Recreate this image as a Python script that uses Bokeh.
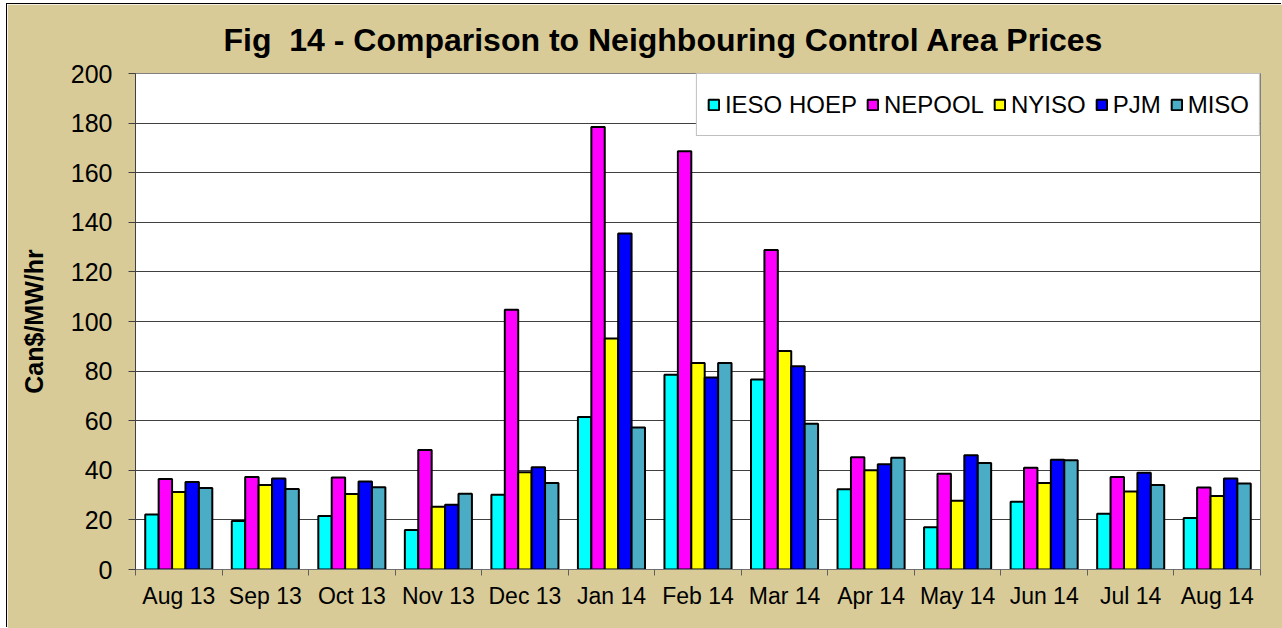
import numpy as np
from bokeh.plotting import figure
from bokeh.models import Legend, LegendItem, FixedTicker, Range1d
from bokeh.embed import file_html
from bokeh.resources import INLINE

months = ["Aug 13", "Sep 13", "Oct 13", "Nov 13", "Dec 13", "Jan 14", "Feb 14",
          "Mar 14", "Apr 14", "May 14", "Jun 14", "Jul 14", "Aug 14"]
ieso_hoep = [22.2, 19.6, 21.6, 15.9, 30.1, 61.5, 78.5, 76.6, 32.4, 17.0, 27.3, 22.5, 20.8]
nepool = [36.5, 37.3, 37.1, 48.2, 104.7, 178.4, 168.6, 128.8, 45.3, 38.6, 41.0, 37.3, 33.1]
nyiso = [31.2, 34.1, 30.4, 25.3, 39.2, 93.1, 83.3, 88.1, 40.0, 27.7, 34.9, 31.5, 29.6]
pjm = [35.3, 36.7, 35.5, 26.1, 41.2, 135.5, 77.4, 82.0, 42.4, 46.1, 44.3, 39.0, 36.7]
miso = [32.9, 32.5, 33.2, 30.5, 34.9, 57.3, 83.3, 58.8, 45.1, 42.9, 44.1, 34.1, 34.7]
series_names = ["IESO HOEP", "NEPOOL", "NYISO", "PJM", "MISO"]
y_ticks = [0, 20, 40, 60, 80, 100, 120, 140, 160, 180, 200]

series = [ieso_hoep, nepool, nyiso, pjm, miso]
colors = ["#00FFFF", "#FF00FF", "#FFFF00", "#0000FF", "#4BACC6"]
TAN = "#D8CB98"
FONT = "Liberation Sans"

n = len(months)
centers = np.arange(n) + 0.5
bar_w = 0.155

p = figure(width=1275, height=624, x_range=Range1d(0, n), y_range=Range1d(0, 200),
           output_backend="svg", toolbar_location=None,
           min_border_left=128, min_border_right=22, min_border_top=68, min_border_bottom=59,
           background_fill_color="white", border_fill_color=TAN,
           outline_line_color="#808080", outline_line_width=1)
p.styles = {"margin-left": "7px", "margin-top": "4px",
            "box-shadow": "-1px -1px 0px 0px black"}

p.title.text = "Fig \u00a014 - Comparison to Neighbouring Control Area Prices"
p.title.text_font = FONT
p.title.text_font_size = "32px"
p.title.text_font_style = "bold"
p.title.text_color = "black"
p.title.align = "left"
p.title.offset = 88
p.title.standoff = 31

items = []
for k, (name, vals, col) in enumerate(zip(series_names, series, colors)):
    xs = centers + (k - 2) * bar_w
    r = p.vbar(x=xs, top=vals, width=bar_w, bottom=0, fill_color=col,
               line_color="black", line_width=2)
    items.append(LegendItem(label=name, renderers=[r]))

legend = Legend(items=items, orientation="horizontal", location="top_right", margin=0,
                padding=10, spacing=9, label_standoff=5, glyph_width=13, glyph_height=13,
                label_height=41, label_text_font=FONT, label_text_font_size="24px",
                label_text_color="black",
                border_line_color="#808080", border_line_width=1,
                background_fill_color="white", background_fill_alpha=1.0)
p.add_layout(legend, "center")

# x axis: labels at group centres, ticks at group boundaries
p.xaxis.ticker = FixedTicker(ticks=list(centers), minor_ticks=list(np.arange(n + 1)))
p.xaxis.major_label_overrides = {float(c): m for c, m in zip(centers, months)}
p.xaxis.major_tick_out = 0
p.xaxis.major_tick_in = 0
p.xaxis.minor_tick_out = 6
p.xaxis.minor_tick_in = 0
p.xaxis.minor_tick_line_color = "#606060"
p.xaxis.axis_line_color = "#707070"
p.xaxis.axis_line_width = 1
p.xaxis.major_label_text_font = FONT
p.xaxis.major_label_text_font_size = "23px"
p.xaxis.major_label_text_color = "black"
p.xaxis.major_label_standoff = 7
p.xgrid.visible = False

p.yaxis.ticker = FixedTicker(ticks=y_ticks)
p.yaxis.minor_tick_line_color = None
p.yaxis.major_tick_out = 7
p.yaxis.major_tick_in = 0
p.yaxis.major_tick_line_color = "#404040"
p.yaxis.axis_line_color = "#404040"
p.yaxis.major_label_text_font = FONT
p.yaxis.major_label_text_font_size = "25px"
p.yaxis.major_label_text_color = "black"
p.yaxis.major_label_standoff = 16
p.yaxis.axis_label = "Can$/MW/hr"
p.yaxis.axis_label_text_font = FONT
p.yaxis.axis_label_text_font_size = "25px"
p.yaxis.axis_label_text_font_style = "bold"
p.yaxis.axis_label_text_color = "black"
p.yaxis.axis_label_standoff = 20
p.ygrid.grid_line_color = "#404040"
p.ygrid.grid_line_width = 1

open("out.html", "w").write(file_html(p, INLINE))
